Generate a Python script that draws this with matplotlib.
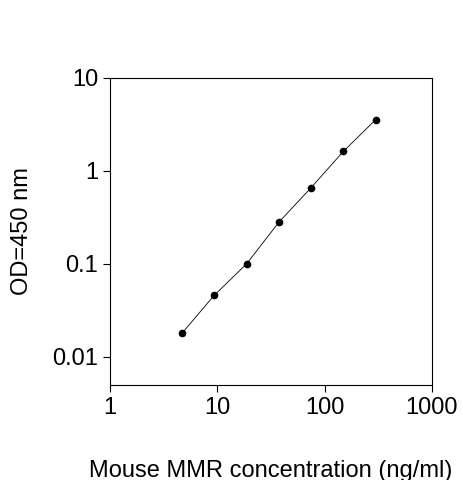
import matplotlib
matplotlib.use("Agg")
import matplotlib.pyplot as plt

plt.rcParams['font.family'] = ['Liberation Sans', 'DejaVu Sans']

# standard curve values
conc = [4.69, 9.38, 18.75, 37.5, 75, 150, 300]
od = [0.018, 0.046, 0.10, 0.28, 0.66, 1.62, 3.55]
xticks = [1, 10, 100, 1000]
xlabels = ['1', '10', '100', '1000']
yticks = [0.01, 0.1, 1, 10]
ylabels = ['0.01', '0.1', '1', '10']

fig = plt.figure(figsize=(4.63, 4.8), dpi=100)
ax = fig.add_axes([0.2376, 0.198, 0.695, 0.64])
ax.plot(conc, od, color='black', lw=0.6, marker='o', markersize=4.5)
ax.set_xscale('log')
ax.set_yscale('log')
ax.set_xlim(1, 1000)
ax.set_ylim(0.005, 10)
ax.set_xticks(xticks)
ax.set_xticklabels(xlabels)
ax.set_yticks(yticks)
ax.set_yticklabels(ylabels)
ax.minorticks_off()
ax.tick_params(direction='out', length=5, labelsize=17)
for s in ax.spines.values():
    s.set_linewidth(0.8)
ax.set_xlabel('Mouse MMR concentration (ng/ml)', fontsize=17, labelpad=30)
ax.set_ylabel('OD=450 nm', fontsize=17, labelpad=14)
fig.savefig('out.png', dpi=100)
